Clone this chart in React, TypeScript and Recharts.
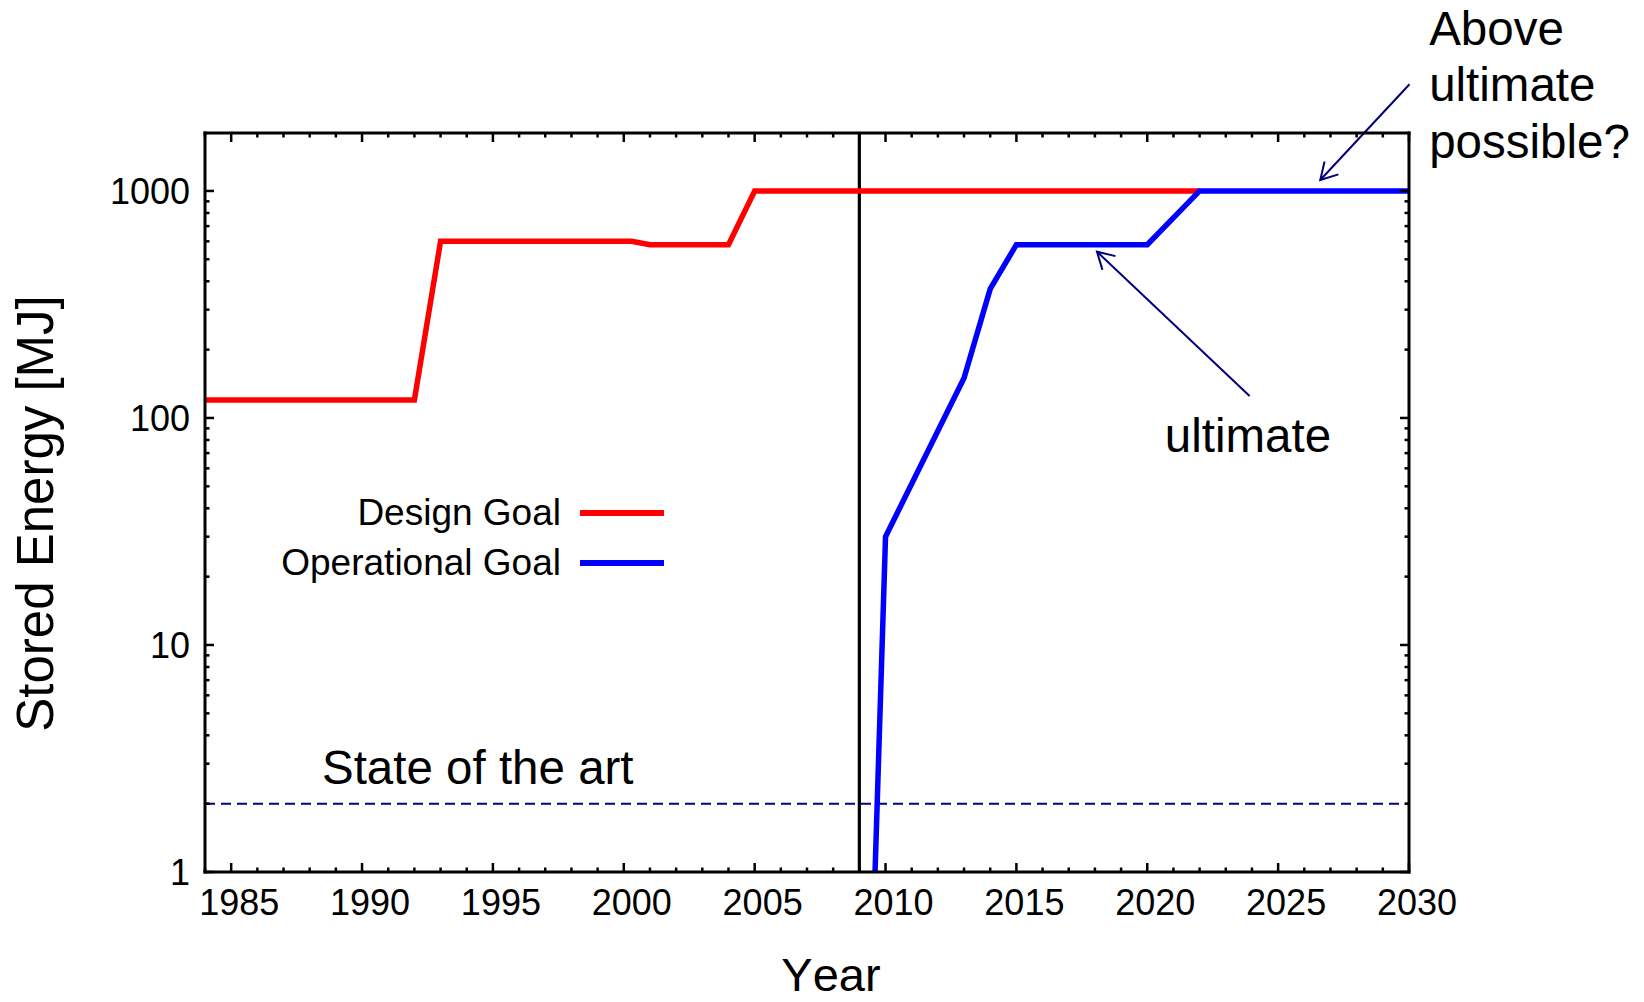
import React from "react";
import {
  LineChart,
  Line,
  XAxis,
  YAxis,
  ReferenceLine,
  ReferenceDot,
  Legend,
} from "recharts";

const FONT = '"Liberation Sans", Arial, Helvetica, sans-serif';

// design goal (red)
const designYears = [1984, 1992, 1993, 2000.3, 2001, 2004, 2005, 2022];
const designValues = [120, 120, 600, 600, 580, 580, 1000, 1000];

// operational goal (blue)
const operationalYears = [2009.6, 2010, 2013, 2014, 2015, 2020, 2022, 2030];
const operationalValues = [1, 30, 150, 370, 580, 580, 1000, 1000];

const yearLabels = [1985, 1990, 1995, 2000, 2005, 2010, 2015, 2020, 2025, 2030];
const yearMinor = Array.from({ length: 47 }, (_, i) => 1984 + i);
const energyLabels = [1, 10, 100, 1000];
const energyMinor = [1, 10, 100].flatMap((d) => [2, 3, 4, 5, 6, 7, 8, 9].map((m) => m * d));
const energyTicks = [...energyLabels, ...energyMinor].sort((a, b) => a - b);

const stateOfTheArt = 2;
const nowYear = 2009;

const notes = [
  { lines: ["State of the art"], year: 1988.47, value: 2.44 },
  { lines: ["ultimate"], year: 2020.67, value: 71 },
  { lines: ["Above", "ultimate", "possible?"], year: 2030.77, value: 4400 },
];

const arrows = [
  { from: { x: 2030.02, y: 2950 }, to: { x: 2026.61, y: 1118 } },
  { from: { x: 2023.91, y: 125 }, to: { x: 2018.08, y: 540 } },
];

const designData = designYears.map((year, i) => ({ year, value: designValues[i] }));
const operationalData = operationalYears.map((year, i) => ({ year, value: operationalValues[i] }));

const isMajorYear = (v: number) => yearLabels.includes(v);
const isMajorEnergy = (v: number) => energyLabels.includes(v);

const BottomTick = (p: any) => {
  const v = p.payload.value;
  const major = isMajorYear(v);
  return (
    <g>
      <line x1={p.x} x2={p.x} y1={p.y} y2={p.y - (major ? 9 : 4.5)} stroke="#000" strokeWidth={2.5} />
      {major && (
        <text x={p.x + 8} y={p.y + 43} textAnchor="middle" fontFamily={FONT} fontSize={36} fill="#000">
          {v}
        </text>
      )}
    </g>
  );
};

const TopTick = (p: any) => {
  const major = isMajorYear(p.payload.value);
  return <line x1={p.x} x2={p.x} y1={p.y} y2={p.y + (major ? 9 : 4.5)} stroke="#000" strokeWidth={2.5} />;
};

const LeftTick = (p: any) => {
  const v = p.payload.value;
  const major = isMajorEnergy(v);
  return (
    <g>
      <line x1={p.x} x2={p.x + (major ? 9 : 4.5)} y1={p.y} y2={p.y} stroke="#000" strokeWidth={2.5} />
      {major && (
        <text x={p.x - 15} y={p.y} dy="0.36em" textAnchor="end" fontFamily={FONT} fontSize={36} fill="#000">
          {v}
        </text>
      )}
    </g>
  );
};

const RightTick = (p: any) => {
  const major = isMajorEnergy(p.payload.value);
  return <line x1={p.x} x2={p.x - (major ? 9 : 4.5)} y1={p.y} y2={p.y} stroke="#000" strokeWidth={2.5} />;
};

const XTitle = (p: any) => {
  const vb = p.viewBox;
  return (
    <text
      x={vb.x + vb.width / 2 + 24}
      y={vb.y + 119}
      textAnchor="middle"
      fontFamily={FONT}
      fontSize={47}
      fill="#000"
      style={{ fontKerning: "none" }}
    >
      Year
    </text>
  );
};

const YTitle = (p: any) => {
  const vb = p.viewBox;
  const x = vb.x + vb.width - 152.5;
  const y = vb.y + vb.height / 2 + 11;
  return (
    <text x={x} y={y} transform={`rotate(-90 ${x} ${y})`} textAnchor="middle" fontFamily={FONT} fontSize={51} fill="#000">
      Stored Energy [MJ]
    </text>
  );
};

const noteShape = (lines: string[]) => (p: any) => (
  <text x={p.cx} y={p.cy} fontFamily={FONT} fontSize={47.5} fill="#000">
    {lines.map((l, i) => (
      <tspan key={i} x={p.cx} dy={i === 0 ? 0 : 56.6}>
        {l}
      </tspan>
    ))}
  </text>
);

const ArrowShape = (p: any) => {
  const { x1, y1, x2, y2 } = p;
  const ang = Math.atan2(y2 - y1, x2 - x1);
  const len = 19;
  const spread = Math.PI / 6;
  const a = [x2 - len * Math.cos(ang - spread), y2 - len * Math.sin(ang - spread)];
  const b = [x2 - len * Math.cos(ang + spread), y2 - len * Math.sin(ang + spread)];
  return (
    <g stroke="#00007a" strokeWidth={2} fill="none">
      <line x1={x1} y1={y1} x2={x2} y2={y2} />
      <polyline points={`${a[0]},${a[1]} ${x2},${y2} ${b[0]},${b[1]}`} />
    </g>
  );
};

const renderLegend = (props: any) => (
  <div style={{ fontFamily: FONT, fontSize: 37, color: "#000" }}>
    {(props.payload ?? []).map((entry: any) => (
      <div key={entry.value} style={{ display: "flex", alignItems: "center", height: 50 }}>
        <span style={{ width: 320, textAlign: "right", lineHeight: "50px", whiteSpace: "nowrap" }}>{entry.value}</span>
        <span style={{ width: 84, height: 6, marginLeft: 19, background: entry.color }} />
      </div>
    ))}
  </div>
);

const frame = { stroke: "#000", strokeWidth: 3, strokeLinecap: "square" as const };

export default function App() {
  return (
    <div style={{ position: "absolute", left: 0, top: 0, width: 1644, height: 1002, background: "#fff" }}>
      <LineChart width={1644} height={1002} margin={{ top: 103, right: 175, bottom: 100, left: 145 }}>
        <XAxis
          xAxisId="b"
          dataKey="year"
          type="number"
          domain={[1984, 2030]}
          allowDataOverflow
          ticks={yearMinor}
          interval={0}
          height={30}
          tickSize={0}
          tickMargin={0}
          tickLine={false}
          axisLine={frame}
          tick={BottomTick}
          label={XTitle}
        />
        <XAxis
          xAxisId="t"
          orientation="top"
          dataKey="year"
          type="number"
          domain={[1984, 2030]}
          allowDataOverflow
          ticks={yearMinor}
          interval={0}
          height={30}
          tickSize={0}
          tickMargin={0}
          tickLine={false}
          axisLine={frame}
          tick={TopTick}
        />
        <YAxis
          yAxisId="l"
          dataKey="value"
          type="number"
          scale="log"
          domain={[1, 1800]}
          allowDataOverflow
          ticks={energyTicks}
          interval={0}
          width={60}
          tickSize={0}
          tickMargin={0}
          tickLine={false}
          axisLine={frame}
          tick={LeftTick}
          label={YTitle}
        />
        <YAxis
          yAxisId="r"
          orientation="right"
          dataKey="value"
          type="number"
          scale="log"
          domain={[1, 1800]}
          allowDataOverflow
          ticks={energyTicks}
          interval={0}
          width={60}
          tickSize={0}
          tickMargin={0}
          tickLine={false}
          axisLine={frame}
          tick={RightTick}
        />
        <ReferenceLine xAxisId="b" yAxisId="l" y={stateOfTheArt} stroke="#000080" strokeWidth={2} strokeDasharray="10 6" />
        <ReferenceLine xAxisId="b" yAxisId="l" x={nowYear} stroke="#000" strokeWidth={3.2} />
        <Line
          xAxisId="b"
          yAxisId="l"
          data={designData}
          dataKey="value"
          name="Design Goal"
          type="linear"
          stroke="#ff0000"
          strokeWidth={5.5}
          dot={false}
          isAnimationActive={false}
        />
        <Line
          xAxisId="b"
          yAxisId="l"
          data={operationalData}
          dataKey="value"
          name="Operational Goal"
          type="linear"
          stroke="#0000ff"
          strokeWidth={5.5}
          dot={false}
          isAnimationActive={false}
        />
        {arrows.map((a, i) => (
          <ReferenceLine
            key={`arrow-${i}`}
            xAxisId="b"
            yAxisId="l"
            segment={[a.from, a.to]}
            ifOverflow="visible"
            shape={ArrowShape}
          />
        ))}
        {notes.map((n, i) => (
          <ReferenceDot
            key={`note-${i}`}
            xAxisId="b"
            yAxisId="l"
            x={n.year}
            y={n.value}
            r={0}
            ifOverflow="visible"
            shape={noteShape(n.lines)}
          />
        ))}
        <Legend
          layout="vertical"
          align="center"
          verticalAlign="middle"
          wrapperStyle={{ left: 241, top: 488, width: 440 }}
          content={renderLegend}
        />
      </LineChart>
    </div>
  );
}
